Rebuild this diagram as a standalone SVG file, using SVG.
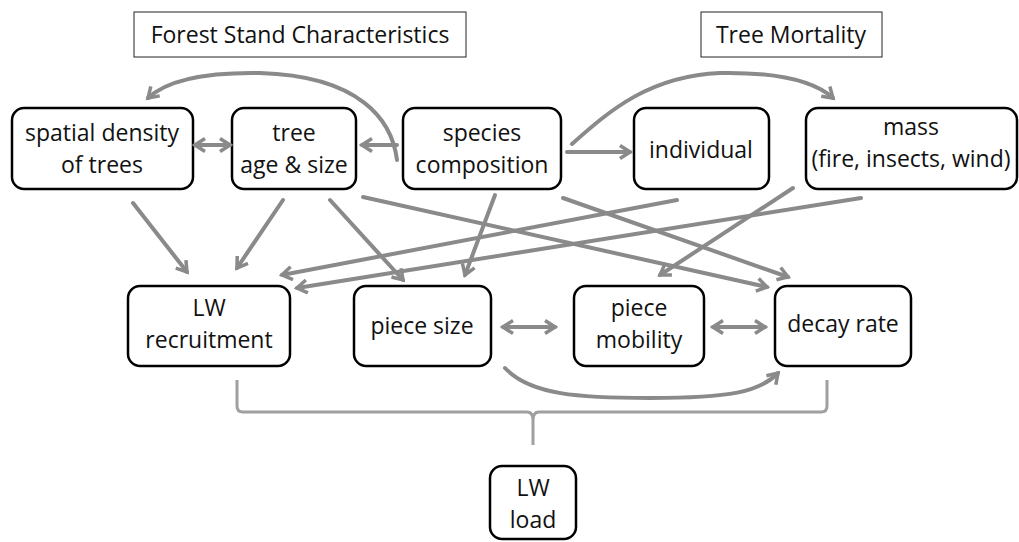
<svg xmlns="http://www.w3.org/2000/svg" width="1019" height="542" viewBox="0 0 1019 542">
<style>
.node rect{fill:#fff;stroke:#000;stroke-width:2.5}
.title rect{fill:#fff;stroke:#222;stroke-width:1}
text{font-family:"Open Sans","Liberation Sans",sans-serif;font-size:23px;fill:#111;text-anchor:middle}
.conn path{fill:none;stroke:#8a8a8a;stroke-width:4;stroke-linecap:round}
</style>
<defs>
<marker id="ah" viewBox="0 0 16 16" refX="13" refY="8" markerWidth="16" markerHeight="16" orient="auto-start-reverse" markerUnits="userSpaceOnUse">
<path d="M3,1.5 L13,8 L3,14.5" fill="none" stroke="#8a8a8a" stroke-width="3.5" stroke-linejoin="miter"/>
</marker>
</defs>
<rect width="1019" height="542" fill="#fff"/>
<g id="title-forest" class="title"><rect x="134" y="12" width="332" height="45"/><text x="300" y="43">Forest Stand Characteristics</text></g>
<g id="title-mortality" class="title"><rect x="701" y="12" width="181" height="45"/><text x="791" y="43">Tree Mortality</text></g>
<g id="spatial" class="node"><rect x="12" y="108" width="181" height="81" rx="12"/><text x="102" y="141">spatial density</text><text x="102" y="173">of trees</text></g>
<g id="tree" class="node"><rect x="232" y="108" width="124" height="81" rx="12"/><text x="294" y="141">tree</text><text x="294" y="173">age &amp; size</text></g>
<g id="species" class="node"><rect x="403" y="108" width="158" height="81" rx="12"/><text x="482" y="141">species</text><text x="482" y="173">composition</text></g>
<g id="individual" class="node"><rect x="634" y="108" width="135" height="81" rx="12"/><text x="701" y="158">individual</text></g>
<g id="mass" class="node"><rect x="806" y="108" width="211" height="81" rx="12"/><text x="911" y="135">mass</text><text x="911" y="167">(fire, insects, wind)</text></g>
<g id="recruitment" class="node"><rect x="128" y="286" width="162" height="80" rx="12"/><text x="209" y="316">LW</text><text x="209" y="348">recruitment</text></g>
<g id="piecesize" class="node"><rect x="354" y="286" width="137" height="80" rx="12"/><text x="422" y="334">piece size</text></g>
<g id="mobility" class="node"><rect x="574" y="286" width="130" height="80" rx="12"/><text x="639" y="316">piece</text><text x="639" y="348">mobility</text></g>
<g id="decay" class="node"><rect x="775" y="286" width="136" height="80" rx="12"/><text x="843" y="332">decay rate</text></g>
<g id="load" class="node"><rect x="490" y="466" width="86" height="73" rx="12"/><text x="533" y="496">LW</text><text x="533" y="528">load</text></g>
<g id="connectors" class="conn">
<path d="M397,160 C392,120 360,76 260,73 C200,72 165,82 148,98" marker-end="url(#ah)"/>
<path d="M397,145 L362,145" marker-end="url(#ah)"/>
<path d="M195,145 L230,145" marker-start="url(#ah)" marker-end="url(#ah)"/>
<path d="M567,152 L630,152" marker-end="url(#ah)"/>
<path d="M572,144 C610,110 650,76 720,73 C780,72 815,82 833,98" marker-end="url(#ah)"/>
<path d="M677,200 L282,275" marker-end="url(#ah)"/>
<path d="M861,198 L297,288" marker-end="url(#ah)"/>
<path d="M793,188 L660,275" marker-end="url(#ah)"/>
<path d="M363,197 L767,287" marker-end="url(#ah)"/>
<path d="M563,198 L788,277" marker-end="url(#ah)"/>
<path d="M133,203 L187,272" marker-end="url(#ah)"/>
<path d="M283,200 L237,268" marker-end="url(#ah)"/>
<path d="M330,200 L403,280" marker-end="url(#ah)"/>
<path d="M495,195 L465,275" marker-end="url(#ah)"/>
<path d="M503,327 L555,327" marker-start="url(#ah)" marker-end="url(#ah)"/>
<path d="M713,327 L765,327" marker-start="url(#ah)" marker-end="url(#ah)"/>
<path d="M505,368 C530,395 580,398 650,398 C730,398 760,392 778,373" marker-end="url(#ah)"/>
</g>
<g id="brace" fill="none" stroke="#a0a0a0" stroke-width="3">
<path d="M237,380 L237,406 Q237,412 243,412 L527,412 Q533,412 533,420 L533,445 M533,420 Q533,412 539,412 L821,412 Q827,412 827,406 L827,380"/>
</g>
</svg>
